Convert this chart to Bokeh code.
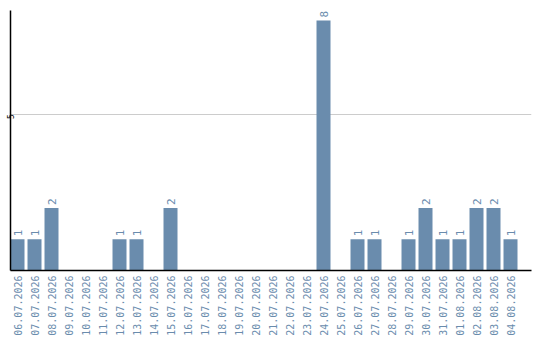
import math
from bokeh.plotting import figure
from bokeh.models import ColumnDataSource, FixedTicker, Range1d
from bokeh.core.properties import value
from bokeh.embed import file_html
from bokeh.resources import INLINE

# daily counts
dates = [
    "06.07.2026", "07.07.2026", "08.07.2026", "09.07.2026", "10.07.2026",
    "11.07.2026", "12.07.2026", "13.07.2026", "14.07.2026", "15.07.2026",
    "16.07.2026", "17.07.2026", "18.07.2026", "19.07.2026", "20.07.2026",
    "21.07.2026", "22.07.2026", "23.07.2026", "24.07.2026", "25.07.2026",
    "26.07.2026", "27.07.2026", "28.07.2026", "29.07.2026", "30.07.2026",
    "31.07.2026", "01.08.2026", "02.08.2026", "03.08.2026", "04.08.2026",
]
counts = [1, 1, 2, 0, 0, 0, 1, 1, 0, 2,
          0, 0, 0, 0, 0, 0, 0, 0, 8, 0,
          1, 1, 0, 1, 2, 1, 1, 2, 2, 1]
y_ticks = [5]

BAR = "#6a8cad"
LABEL = "#6a8cad"
FONT = "DejaVu Sans Mono"

idx = list(range(len(dates)))
src = ColumnDataSource(dict(x=idx, y=counts))
nz = [i for i, c in enumerate(counts) if c > 0]
lab_src = ColumnDataSource(dict(
    x=[idx[i] for i in nz],
    y=[counts[i] for i in nz],
    t=[str(counts[i]) for i in nz],
))

p = figure(width=540, height=340, output_backend="svg", toolbar_location=None,
           x_range=Range1d(-0.412, 30.235), y_range=Range1d(0, 8.32),
           min_border_left=10, min_border_right=9, min_border_top=10,
           min_border_bottom=70)
p.outline_line_color = None
p.background_fill_color = "white"
p.border_fill_color = "white"

p.vbar(x="x", top="y", width=0.8235, bottom=0, source=src,
       fill_color=BAR, line_color=None)

p.text(x="x", y="y", text="t", source=lab_src, angle=math.pi / 2,
       text_align="left", text_baseline="alphabetic", y_offset=-3,
       text_color=LABEL, text_font=value(FONT), text_font_size="11px")

# x axis: one date per bar, rotated
p.xaxis.ticker = FixedTicker(ticks=idx)
p.xaxis.major_label_overrides = {i: d for i, d in enumerate(dates)}
p.xaxis.major_label_orientation = math.pi / 2
p.xaxis.major_label_text_font = FONT
p.xaxis.major_label_text_font_size = "10px"
p.xaxis.major_label_text_color = LABEL
p.xaxis.major_label_standoff = 5
p.xaxis.major_tick_line_color = None
p.xaxis.major_tick_out = 0
p.xaxis.major_tick_in = 0
p.xaxis.axis_label_standoff = 0
p.xaxis.minor_tick_line_color = None
p.xaxis.axis_line_color = "black"
p.xaxis.axis_line_width = 1.5

# y axis
p.yaxis.ticker = FixedTicker(ticks=y_ticks)
p.yaxis.major_label_orientation = math.pi / 2
p.yaxis.major_label_text_font = FONT
p.yaxis.major_label_text_font_size = "8px"
p.yaxis.major_label_text_color = "black"
p.yaxis.major_label_standoff = 0
p.yaxis.major_tick_line_color = None
p.yaxis.major_tick_out = 0
p.yaxis.major_tick_in = 0
p.yaxis.axis_label_standoff = 0
p.yaxis.minor_tick_line_color = None
p.yaxis.axis_line_color = "black"
p.yaxis.axis_line_width = 1.5

p.xgrid.grid_line_color = None
p.ygrid.ticker = FixedTicker(ticks=y_ticks)
p.ygrid.grid_line_color = "#cccccc"
p.ygrid.grid_line_width = 1

open("out.html", "w").write(file_html(p, INLINE))
